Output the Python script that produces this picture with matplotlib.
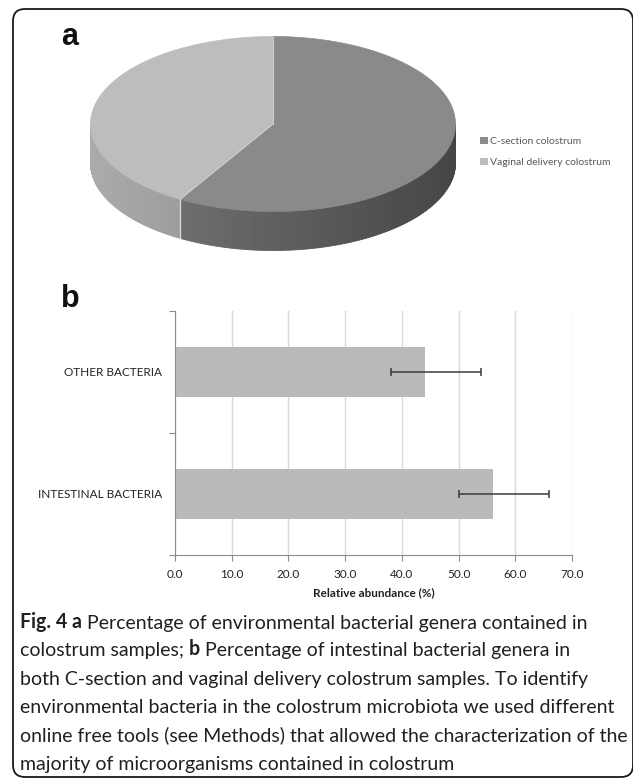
import numpy as np
import matplotlib.pyplot as plt
from matplotlib.patches import Polygon, FancyBboxPatch, Patch
import matplotlib.colors as mcolors

# panel a: pie
pie_labels = ['C-section colostrum', 'Vaginal delivery colostrum']
pie_values = [58.5, 41.5]
top_colors = ['#8a8a8a', '#bdbdbd']
side_colors = [('#6d6d6d', '#454545'), ('#ababab', '#9d9d9d')]

# panel b: bars
bar_labels = ['INTESTINAL BACTERIA', 'OTHER BACTERIA']
bar_values = [56.0, 44.0]
err_low = [6.0, 6.0]
err_high = [10.0, 10.0]
x_ticks = [0, 10, 20, 30, 40, 50, 60, 70]

caption = [
    [('Fig. 4 a', True), (' Percentage of environmental bacterial genera contained in', False)],
    [('colostrum samples; ', False), ('b', True), (' Percentage of intestinal bacterial genera in', False)],
    [('both C-section and vaginal delivery colostrum samples. To identify', False)],
    [('environmental bacteria in the colostrum microbiota we used different', False)],
    [('online free tools (see Methods) that allowed the characterization of the', False)],
    [('majority of microorganisms contained in colostrum', False)],
]

W, H = 633, 778
fig = plt.figure(figsize=(W / 100, H / 100), dpi=100)

bg = fig.add_axes([0, 0, 1, 1])
bg.set_xlim(0, W)
bg.set_ylim(H, 0)
bg.axis('off')

# rounded frame
frame = FancyBboxPatch((13, 9), 620, 768, boxstyle='round,pad=0,rounding_size=12',
                       fill=False, edgecolor='#1a1a1a', lw=1.3)
bg.add_patch(frame)

bg.text(61, 45, 'a', fontsize=22, fontweight='bold', family='Liberation Sans', color='#111111')
bg.text(61, 307, 'b', fontsize=22, fontweight='bold', family='Liberation Sans', color='#111111')

# 3D-looking pie
cx, cy, a, b, depth = 273, 124, 182.5, 87.5, 39


def pt(t):
    return cx + a * np.sin(t), cy - b * np.cos(t)


edges = np.concatenate([[0], np.cumsum(pie_values)]) / sum(pie_values) * 2 * np.pi

for i in range(len(pie_values)):
    lo = max(edges[i], np.pi / 2)
    hi = min(edges[i + 1], 3 * np.pi / 2)
    if hi <= lo:
        continue
    ts = np.linspace(lo, hi, 120)
    xs, ys = pt(ts)
    c0 = np.array(mcolors.to_rgb(side_colors[i][0]))
    c1 = np.array(mcolors.to_rgb(side_colors[i][1]))
    for k in range(len(ts) - 1):
        f = ((xs[k] + xs[k + 1]) / 2 - xs.min()) / (xs.max() - xs.min())
        col = c0 + (c1 - c0) * f
        quad = [(xs[k], ys[k]), (xs[k + 1], ys[k + 1]),
                (xs[k + 1], ys[k + 1] + depth), (xs[k], ys[k] + depth)]
        bg.add_patch(Polygon(quad, closed=True, facecolor=col, edgecolor=col, lw=0.6, zorder=2))

for i in range(len(pie_values)):
    ts = np.linspace(edges[i], edges[i + 1], 200)
    xs, ys = pt(ts)
    verts = [(cx, cy)] + list(zip(xs, ys))
    bg.add_patch(Polygon(verts, closed=True, facecolor=top_colors[i],
                         edgecolor=top_colors[i], lw=0.5, zorder=3))

for t in edges[:-1]:
    x1, y1 = pt(t)
    bg.plot([cx, x1], [cy, y1], color='#d0d0d0', lw=0.7, zorder=4)
    if np.pi / 2 < t < 3 * np.pi / 2:
        bg.plot([x1, x1], [y1, y1 + depth], color='#dcdcdc', lw=0.9, zorder=4)

handles = [Patch(facecolor=c, edgecolor='none') for c in top_colors]
fig.legend(handles, pie_labels, loc='center left', bbox_to_anchor=(471 / W, 1 - 152 / H),
           frameon=False, handlelength=0.75, handleheight=0.75, handletextpad=0.2,
           labelspacing=1.1, prop={'family': 'Lato', 'size': 7.5}, labelcolor='#595959')

# bar chart
ax = fig.add_axes([175 / W, 1 - 555 / H, (572 - 175) / W, (555 - 311) / H])
ypos = np.arange(len(bar_labels))
ax.barh(ypos, bar_values, height=0.41, color='#bababa', zorder=2,
        xerr=[err_low, err_high],
        error_kw=dict(ecolor='#3a3a3a', capsize=3, elinewidth=1.1, capthick=1.1, zorder=3))
ax.set_xlim(0, 70)
ax.set_ylim(-0.5, 1.5)
ax.set_xticks(x_ticks)
ax.set_xticklabels(['%.1f' % v for v in x_ticks], family='Lato', fontsize=8.5, color='#222222')
ax.set_yticks([-0.5, 0.5, 1.5])
ax.set_yticklabels([])
ax.set_yticks(ypos, minor=True)
ax.set_yticklabels(bar_labels, minor=True, family='Lato', fontsize=8.5, color='#222222')
ax.tick_params(axis='y', which='minor', length=0, pad=9)
ax.tick_params(axis='y', which='major', length=4, color='#8c8c8c')
ax.tick_params(axis='x', length=4, color='#8c8c8c', pad=6)
ax.grid(axis='x', color='#d9d9d9', lw=1, zorder=0)
for s in ['top', 'right']:
    ax.spines[s].set_visible(False)
for s in ['left', 'bottom']:
    ax.spines[s].set_color('#8c8c8c')
ax.set_xlabel('Relative abundance (%)', family='Lato', fontsize=8.5, fontweight='bold',
              color='#222222', labelpad=5)

# caption: pick a size so the widest line fits like the reference (~597 px)
renderer = fig.canvas.get_renderer()
probe = bg.text(0, 0, caption[3][0][0], fontsize=15, family='Lato')
wpx = probe.get_window_extent(renderer).width
probe.remove()
cap_size = 15 * 597 / wpx

y0 = 628
for j, line in enumerate(caption):
    prev = None
    for txt, bold in line:
        kw = dict(fontsize=cap_size, family='Lato', color='#231f20',
                  fontweight='bold' if bold else 'normal')
        if prev is None:
            prev = bg.text(20, y0 + j * 28.4, txt, va='baseline', ha='left', **kw)
        else:
            prev = bg.annotate(txt, xy=(1, 0), xycoords=prev, va='bottom', ha='left', **kw)

fig.savefig('out.png', dpi=100)
